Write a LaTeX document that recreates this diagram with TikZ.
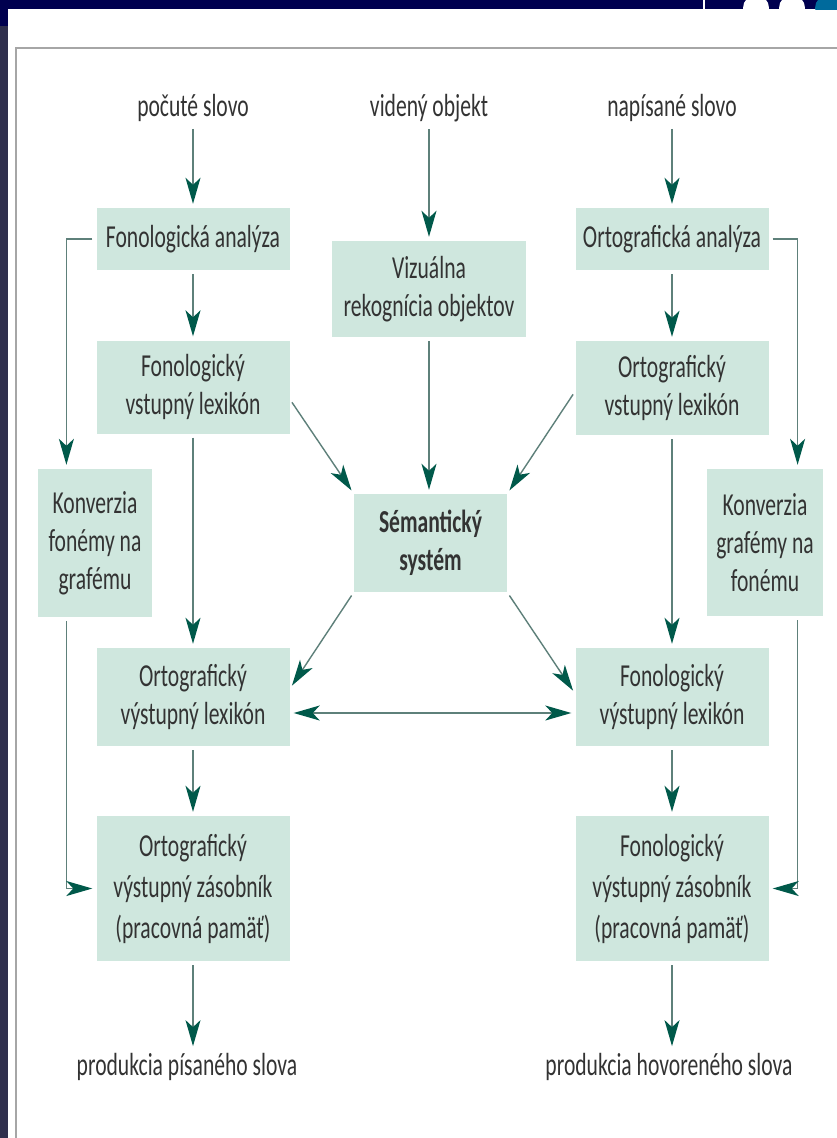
\documentclass[tikz,border=0pt]{standalone}
\usepackage{fontspec}
\setmainfont{Carlito}[FakeStretch=0.675]
\usepackage{xcolor}
\usetikzlibrary{arrows.meta}
\usetikzlibrary{calc}

\definecolor{boxfill}{HTML}{CFE7DE}
\definecolor{linegray}{HTML}{5E807A}
\definecolor{tipteal}{HTML}{00594A}
\definecolor{textgray}{HTML}{333333}
\definecolor{barnavy}{HTML}{00004F}
\definecolor{stripslate}{HTML}{2F2F4D}
\definecolor{dotblue}{HTML}{006A9C}

\tikzset{
    tealtip/.tip={Stealth[length=26pt, width=15pt, inset=7pt, color=tipteal]},
    box/.style={fill=boxfill, text=textgray, align=center, inner sep=0pt,
	minimum width=193pt, font=\fontsize{32}{38}\selectfont},
    word/.style={text=textgray, inner sep=3pt, font=\fontsize{32}{38}\selectfont},
    flow/.style={draw=linegray, line width=1.4pt, shorten <=4pt, shorten >=4pt,
	-tealtip},
    both/.style={flow, tealtip-tealtip},
}

\begin{document}
\begin{tikzpicture}[x=1pt, y=-1pt]
    \useasboundingbox (0, 0) rectangle (837, 1138);
    \fill [white] (0, 0) rectangle (837, 1138);
    \fill [barnavy] (0, 0) rectangle (837, 9);
    \fill [barnavy] (0, 0) rectangle (8, 26);
    \fill [stripslate] (0, 26) rectangle (8, 1138);
    \fill [white] (703, 0) rectangle (705, 9);
    \begin{scope}
	\clip (0, 0) rectangle (837, 9);
	\fill [white] (756, 8) circle (13);
	\fill [white] (792, 8) circle (13);
	\fill [dotblue] (828, 8) circle (13);
    \end{scope}
    \draw [gray!70, line width=1.5pt] (16, 1138) -- (16, 48) -- (837, 48);

    \path (193, 108) node [word] (heard) {počuté slovo};
    \path (429, 108) node [word] (seen) {videný objekt};
    \path (672, 108) node [word] (written) {napísané slovo};

    \path (193, 239) node [box, minimum height=62pt] (fa) {Fonologická analýza};
    \path (193, 387) node [box, minimum height=93pt] (fvl)
	{Fonologický\\vstupný lexikón};
    \path (429, 289) node [box, minimum width=194pt, minimum height=96pt] (viz)
	{Vizuálna\\rekognícia objektov};
    \path (672, 239) node [box, minimum height=62pt] (oa) {Ortografická analýza};
    \path (672, 388) node [box, minimum height=94pt] (ovl)
	{Ortografický\\vstupný lexikón};

    \path (95, 543) node [box, minimum width=114pt, minimum height=148pt] (kfg)
	{Konverzia\\fonémy na\\grafému};
    \path (430.5, 543) node [box, minimum width=153pt, minimum height=98pt,
	font=\fontsize{32}{38}\selectfont\bfseries] (sem) {Sémantický\\systém};
    \path (765, 542.5) node [box, minimum width=116pt, minimum height=147pt] (kgf)
	{Konverzia\\grafémy na\\fonému};

    \path (193, 697) node [box, minimum height=98pt] (ovyl)
	{Ortografický\\výstupný lexikón};
    \path (672, 697) node [box, minimum height=98pt] (fvyl)
	{Fonologický\\výstupný lexikón};
    \path (193, 888.5) node [box, minimum height=145pt,
	font=\fontsize{32}{41}\selectfont] (ozas)
	{Ortografický\\výstupný zásobník\\(pracovná pamäť)};
    \path (672, 888.5) node [box, minimum height=145pt,
	font=\fontsize{32}{41}\selectfont] (fzas)
	{Fonologický\\výstupný zásobník\\(pracovná pamäť)};

    \path (187, 1067) node [word] (pw) {produkcia písaného slova};
    \path (669, 1067) node [word] (ps) {produkcia hovoreného slova};

    \draw [flow] (heard) -- (fa);
    \draw [flow] (seen) -- (viz);
    \draw [flow] (written) -- (oa);
    \draw [flow] (fa) -- (fvl);
    \draw [flow] (oa) -- (ovl);
    \draw [flow] (fa.west) -| ($(kfg.north west)!.25!(kfg.north east)$);
    \draw [flow] (oa.east) -| ($(kgf.north west)!.78!(kgf.north east)$);
    \draw [flow] ([yshift=-12pt]fvl.east) -- (sem.north west);
    \draw [flow] (viz) -- (viz |- sem.north);
    \draw [flow] ([yshift=-3pt]ovl.west) -- (sem.north east);
    \draw [flow] (fvl) -- (ovyl);
    \draw [flow] (ovl) -- (fvyl);
    \draw [flow] (sem.south west) -- ([yshift=8pt]ovyl.east);
    \draw [flow] (sem.south east) -- ([yshift=3pt]fvyl.west);
    \draw [both] ([yshift=-16pt]ovyl.east) -- ([yshift=-16pt]fvyl.west);
    \draw [flow] (ovyl) -- (ozas);
    \draw [flow] (fvyl) -- (fzas);
    \draw [flow] ($(kfg.south west)!.25!(kfg.south east)$) |- (ozas.west);
    \draw [flow] ($(kgf.south west)!.78!(kgf.south east)$) |- (fzas.east);
    \draw [flow] (ozas.south) -- (ozas.south |- pw.north);
    \draw [flow] (fzas.south) -- (fzas.south |- ps.north);
\end{tikzpicture}
\end{document}
